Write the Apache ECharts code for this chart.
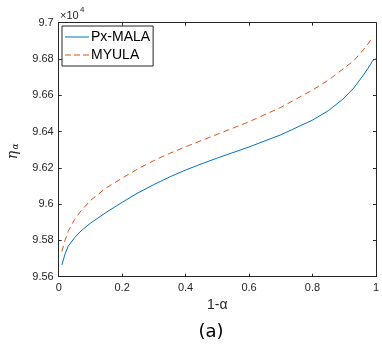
<!DOCTYPE html>
<html>
<head>
<meta charset="utf-8">
<script src="https://cdn.jsdelivr.net/npm/echarts@6/dist/echarts.min.js"></script>
<style>
  html, body { margin: 0; padding: 0; background: #fff; }
  #chart { width: 382px; height: 346px; }
</style>
</head>
<body>
<div id="chart"></div>
<script>
// 1-alpha values where the curves were sampled
const alphaPx = [0.01, 0.02, 0.03, 0.05, 0.07, 0.1, 0.15, 0.2, 0.25, 0.3, 0.35, 0.4, 0.45, 0.5, 0.6, 0.7, 0.8, 0.85, 0.9, 0.93, 0.96, 0.98, 0.99, 0.995, 1.0];
const pxMala  = [9.5665, 9.5725, 9.5768, 9.5815, 9.5852, 9.5895, 9.5955, 9.6010, 9.6062, 9.6108, 9.6150, 9.6188, 9.6222, 9.6254, 9.6315, 9.6382, 9.6463, 9.6515, 9.6585, 9.6640, 9.6710, 9.6762, 9.6792, 9.6801, 9.6801];

const alphaMy = [0.01, 0.02, 0.03, 0.05, 0.07, 0.1, 0.15, 0.2, 0.25, 0.3, 0.35, 0.4, 0.5, 0.6, 0.7, 0.8, 0.85, 0.9, 0.93, 0.96, 0.98, 0.99];
const myula   = [9.5738, 9.5800, 9.5850, 9.5916, 9.5962, 9.6020, 9.6090, 9.6143, 9.6195, 9.6240, 9.6280, 9.6316, 9.6385, 9.6454, 9.6533, 9.6629, 9.6683, 9.6750, 9.6790, 9.6850, 9.6895, 9.6925];

const xTicks = { min: 0, max: 1, step: 0.2 };
const yTicks = { min: 9.56, max: 9.7, step: 0.02 };

const axisColor = '#262626';
const blue = '#0072BD';
const orange = '#D95319';
const font = 'Liberation Sans, Arial, Helvetica, sans-serif';

const chart = echarts.init(document.getElementById('chart'));

const pair = (xs, ys) => xs.map((x, i) => [x, ys[i]]);

const baseX = {
  type: 'value', min: xTicks.min, max: xTicks.max, interval: xTicks.step,
  axisLine: { show: true, onZero: false, lineStyle: { color: axisColor, width: 1 } },
  axisTick: { show: true, inside: true, length: 3, lineStyle: { color: axisColor } },
  splitLine: { show: false }
};
const baseY = {
  type: 'value', min: yTicks.min, max: yTicks.max, interval: yTicks.step,
  axisLine: { show: true, onZero: false, lineStyle: { color: axisColor, width: 1 } },
  axisTick: { show: true, inside: true, length: 3, lineStyle: { color: axisColor } },
  splitLine: { show: false }
};

// legend glyphs: plain line and dashed line
const solidIcon = 'path://M0,0h24v1h-24z';
const dashIcon = 'path://M0,0h6v1h-6zM9,0h6v1h-6zM18,0h6v1h-6z';

chart.setOption({
  animation: false,
  textStyle: { fontFamily: font },
  grid: { left: 58.7, right: 2, top: 22.7, bottom: 69.3, containLabel: false },
  legend: {
    left: 62, top: 26,
    orient: 'vertical',
    itemWidth: 24, itemHeight: 1, itemGap: 4,
    padding: [4, 3, 4, 3],
    backgroundColor: '#fff',
    borderColor: axisColor, borderWidth: 1, borderRadius: 0,
    textStyle: { fontSize: 14, color: '#000', fontFamily: font, padding: [0, 0, 0, -3] },
    data: [
      { name: 'Px-MALA', icon: solidIcon, itemStyle: { color: blue, borderWidth: 0 } },
      { name: 'MYULA', icon: dashIcon, itemStyle: { color: orange, borderWidth: 0 } }
    ]
  },
  xAxis: [
    Object.assign({}, baseX, {
      position: 'bottom',
      axisLabel: { fontSize: 11, color: axisColor, margin: 6, fontFamily: font },
      name: '1-α', nameLocation: 'middle', nameGap: 20,
      nameTextStyle: { fontSize: 14, color: axisColor, fontFamily: font }
    }),
    Object.assign({}, baseX, { position: 'top', axisLabel: { show: false } })
  ],
  yAxis: [
    Object.assign({}, baseY, {
      position: 'left',
      axisLabel: { fontSize: 11, color: axisColor, margin: 5, fontFamily: font }
    }),
    Object.assign({}, baseY, { position: 'right', axisLabel: { show: false } })
  ],
  graphic: [
    { type: 'text', left: 60, top: 10, style: { text: '×10', fontSize: 11, fill: axisColor, fontFamily: font } },
    { type: 'text', left: 80, top: 6, style: { text: '4', fontSize: 8, fill: axisColor, fontFamily: font } },
    { type: 'text', x: 13.5, y: 155, rotation: Math.PI / 2,
      style: { text: 'η', x: 0, y: 0, align: 'center', verticalAlign: 'middle', fontSize: 14, fontStyle: 'italic', fontFamily: 'DejaVu Serif, serif', fill: axisColor } },
    { type: 'text', x: 16, y: 146.5, rotation: Math.PI / 2,
      style: { text: 'α', x: 0, y: 0, align: 'center', verticalAlign: 'middle', fontSize: 9, fontStyle: 'italic', fontFamily: 'DejaVu Serif, serif', fill: axisColor } },
    { type: 'text', x: 211, y: 332,
      style: { text: '(a)', x: 0, y: 0, align: 'center', verticalAlign: 'middle', fontSize: 18, fontFamily: 'DejaVu Sans, sans-serif', fill: '#000' } }
  ],
  series: [
    {
      name: 'Px-MALA', type: 'line', xAxisIndex: 0, yAxisIndex: 0,
      data: pair(alphaPx, pxMala),
      symbol: 'none', smooth: false,
      lineStyle: { color: blue, width: 1 },
      itemStyle: { color: blue }
    },
    {
      name: 'MYULA', type: 'line', xAxisIndex: 0, yAxisIndex: 0,
      data: pair(alphaMy, myula),
      symbol: 'none', smooth: false,
      lineStyle: { color: orange, width: 1, type: [6, 4] },
      itemStyle: { color: orange }
    }
  ]
});
</script>
</body>
</html>
